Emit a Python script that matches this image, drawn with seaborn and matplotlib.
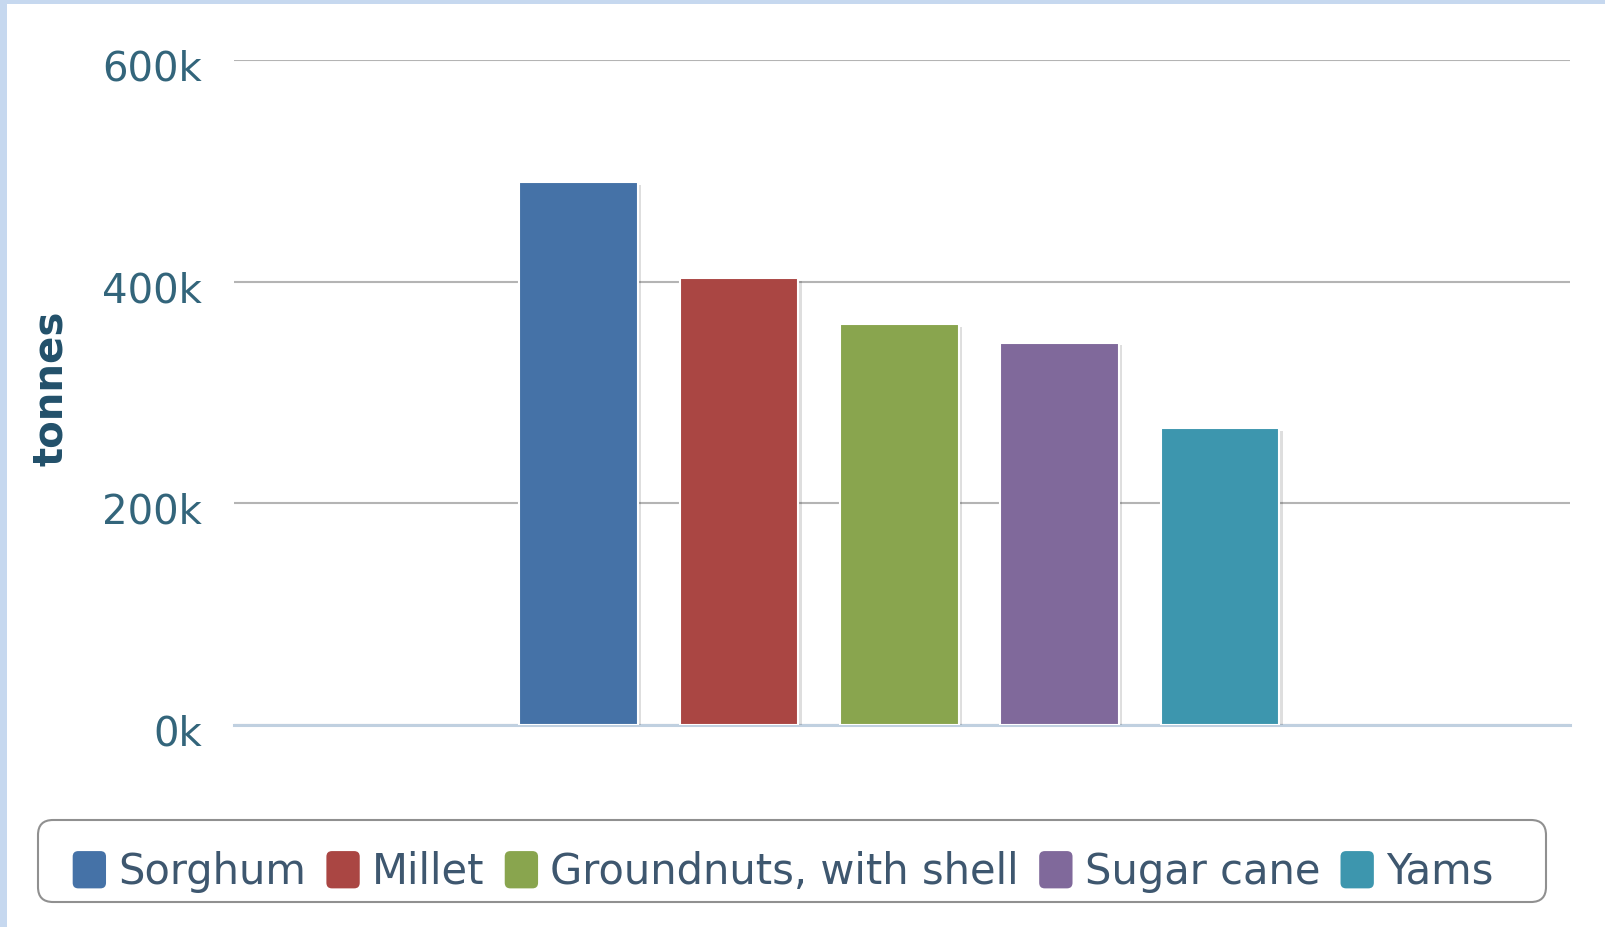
import matplotlib
matplotlib.use("Agg")
import matplotlib.pyplot as plt
import matplotlib.patheffects as pe
import matplotlib.transforms as mtransforms
from matplotlib.patches import Rectangle, Patch, FancyBboxPatch
from matplotlib.legend_handler import HandlerPatch
from matplotlib.ticker import FuncFormatter
import seaborn as sns
import pandas as pd

# Crop production, tonnes
crops = ["Sorghum", "Millet", "Groundnuts, with shell", "Sugar cane", "Yams"]
production = [490000, 403000, 362000, 345000, 268000]
colors = ["#4572A7", "#AA4643", "#89A54E", "#80699B", "#3D96AE"]
y_ticks = [0, 200000, 400000, 600000]

df = pd.DataFrame({"group": ["all"] * len(crops), "crop": crops, "tonnes": production})

sns.set_theme(style="white")
plt.rcParams["font.family"] = ["DejaVu Sans"]

W, H = 1606, 927
fig = plt.figure(figsize=(W / 100, H / 100), dpi=100)
fig.patch.set_facecolor("white")
ax = fig.add_axes([234 / W, 1 - 724.5 / H, (1570 - 234) / W, (724.5 - 60.4) / H])
ax.set_facecolor("white")

sns.barplot(data=df, x="group", y="tonnes", hue="crop", hue_order=crops,
            palette=colors, width=0.6, gap=0.26, dodge=True,
            edgecolor="white", linewidth=1.5, saturation=1, ax=ax, zorder=3)

for bar in ax.patches:
    bar.set_path_effects([
        pe.SimplePatchShadow(offset=(2.5, -2.0), shadow_rgbFace="black", alpha=0.13),
        pe.Normal(),
    ])

ax.set_xlim(-0.498, 0.502)
ax.set_ylim(0, 600000)
ax.set_yticks(y_ticks)
ax.yaxis.set_major_formatter(FuncFormatter(lambda v, p: f"{v / 1000:.0f}k"))
ax.set_xticks([0.5], labels=[""])
ax.set_xlabel("")

ax.grid(axis="y", color="#b4b4b4", linewidth=1.5, zorder=0)
ax.set_axisbelow(True)
for side in ["top", "right", "left"]:
    ax.spines[side].set_visible(False)
ax.spines["bottom"].set_color("#C0D0E0")
ax.spines["bottom"].set_linewidth(2.2)
ax.spines["bottom"].set_zorder(2)

ax.tick_params(axis="y", length=0, pad=23, labelsize=29, labelcolor="#33657b")
ax.tick_params(axis="x", direction="out", length=9.5, width=1.6, color="#C0D0E0")

shift = mtransforms.ScaledTranslation(0, -5 / 100, fig.dpi_scale_trans)
for lbl in ax.get_yticklabels():
    lbl.set_transform(lbl.get_transform() + shift)

ax.set_ylabel("tonnes", fontsize=29, fontweight="bold", color="#22506a")
ax.yaxis.label.set_va("baseline")
ax.yaxis.set_label_coords((62 - 234) / (1570 - 234), (724.5 - 388) / (724.5 - 60.4))

# Legend with rounded colour swatches
handles, labels = ax.get_legend_handles_labels()
if ax.get_legend() is not None:
    ax.get_legend().remove()


def rounded_swatch(legend, orig_handle, xdescent, ydescent, width, height, fontsize):
    return FancyBboxPatch((-xdescent, -ydescent), width, height,
                          boxstyle="round,pad=0,rounding_size=4")


swatch = HandlerPatch(patch_func=rounded_swatch)
leg = fig.legend(handles, labels, loc="center",
                 bbox_to_anchor=(783 / W, 1 - 872 / H), ncol=5, frameon=False,
                 fontsize=30, handlelength=0.8, handleheight=1.0,
                 handletextpad=0.29, columnspacing=0.49, borderpad=0,
                 handler_map={Rectangle: swatch, Patch: swatch})
for txt in leg.get_texts():
    txt.set_color("#3E576F")
for h in leg.legend_handles:
    h.set_edgecolor("none")
    h.set_path_effects([])

# Legend border
fig.patches.append(FancyBboxPatch((38, H - 902), 1508, 82,
                                  boxstyle="round,pad=0,rounding_size=15",
                                  transform=mtransforms.IdentityTransform(),
                                  facecolor="none", edgecolor="#909090",
                                  linewidth=1.5, figure=fig))

# Page frame strips along the top and left edges
fig.patches.append(Rectangle((0, 0), 7, H, transform=mtransforms.IdentityTransform(),
                             facecolor="#c6d8ef", edgecolor="none", figure=fig))
fig.patches.append(Rectangle((0, H - 4), W, 4, transform=mtransforms.IdentityTransform(),
                             facecolor="#c6d8ef", edgecolor="none", figure=fig))

fig.savefig("out.png", dpi=100, facecolor="white")
